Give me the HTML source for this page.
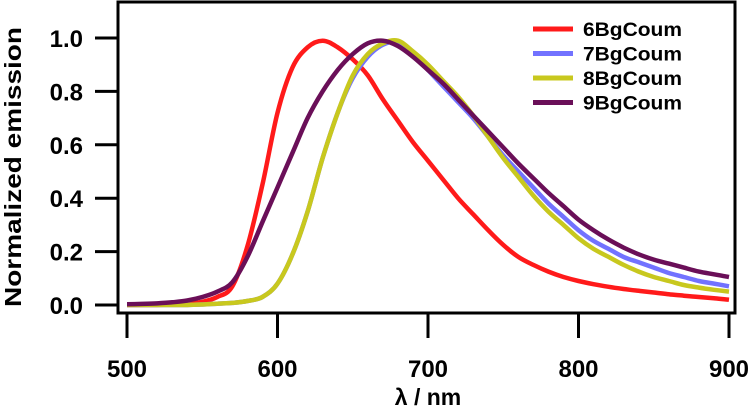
<!DOCTYPE html>
<html><head><meta charset="utf-8"><style>
html,body{margin:0;padding:0;background:#fff;}
svg{display:block;font-family:"Liberation Sans",Arial,sans-serif;font-weight:bold;}
</style></head><body>
<svg id="chart" width="750" height="410" viewBox="0 0 750 410" xmlns="http://www.w3.org/2000/svg">
<g id="marks"></g>
<rect x="118" y="2" width="617" height="311" fill="none" stroke="#000" stroke-width="3"/>
<g id="axes"></g>
<text transform="translate(21,167) rotate(-90)" text-anchor="middle" font-size="23" textLength="280" lengthAdjust="spacingAndGlyphs">Normalized emission</text>
<text x="428" y="405" text-anchor="middle" font-size="23">λ / nm</text>
<g id="legend"></g>
</svg>
<script>
const wavelengths=[500,510,520,530,540,550,560,570,580,590,600,610,620,630,640,650,660,670,680,690,700,710,720,730,740,750,760,770,780,790,800,810,820,830,840,850,860,870,880,890,900];
const s6=[0,0,0,0.002,0.005,0.012,0.03,0.07,0.22,0.45,0.72,0.89,0.965,0.99,0.965,0.92,0.86,0.77,0.69,0.61,0.54,0.47,0.40,0.34,0.28,0.225,0.18,0.15,0.125,0.105,0.09,0.078,0.068,0.06,0.053,0.047,0.04,0.035,0.03,0.025,0.02];
const s7=[0,0,0,0,0,0.002,0.005,0.008,0.015,0.03,0.08,0.19,0.35,0.55,0.72,0.85,0.93,0.975,0.985,0.94,0.88,0.82,0.76,0.70,0.63,0.56,0.50,0.44,0.38,0.33,0.28,0.24,0.21,0.18,0.16,0.14,0.12,0.105,0.09,0.08,0.07];
const s8=[0,0,0,0,0,0.002,0.005,0.008,0.015,0.03,0.08,0.19,0.35,0.55,0.72,0.86,0.94,0.98,0.99,0.95,0.90,0.84,0.78,0.71,0.63,0.55,0.48,0.41,0.35,0.30,0.25,0.21,0.18,0.15,0.125,0.105,0.09,0.075,0.065,0.057,0.05];
const s9=[0.003,0.004,0.006,0.01,0.017,0.03,0.05,0.085,0.18,0.31,0.44,0.57,0.70,0.80,0.88,0.94,0.98,0.99,0.97,0.93,0.88,0.83,0.77,0.71,0.65,0.59,0.53,0.475,0.42,0.37,0.32,0.28,0.245,0.215,0.19,0.17,0.155,0.14,0.125,0.115,0.105];
const seriesNames=["6BgCoum","7BgCoum","8BgCoum","9BgCoum"];
const xTicks=[500,600,700,800,900];
const yTicks=[0,0.2,0.4,0.6,0.8,1.0];
const yTickLabels=["0.0","0.2","0.4","0.6","0.8","1.0"];
const colors=["#ff1a1a","#7272ff","#c8c81e","#6a0f58"];
const NS="http://www.w3.org/2000/svg";
const xs=v=>127+(v-500)*(602/400);
const ys=v=>305-v*267;
function smoothPath(pts){
  let d='M'+pts[0][0].toFixed(1)+','+pts[0][1].toFixed(1);
  for(let i=0;i<pts.length-1;i++){
    const p0=pts[Math.max(0,i-1)],p1=pts[i],p2=pts[i+1],p3=pts[Math.min(pts.length-1,i+2)];
    const c1x=p1[0]+(p2[0]-p0[0])/6,c1y=p1[1]+(p2[1]-p0[1])/6;
    const c2x=p2[0]-(p3[0]-p1[0])/6,c2y=p2[1]-(p3[1]-p1[1])/6;
    d+=' C'+c1x.toFixed(1)+','+c1y.toFixed(1)+' '+c2x.toFixed(1)+','+c2y.toFixed(1)+' '+p2[0].toFixed(1)+','+p2[1].toFixed(1);
  }
  return d;
}
const marks=document.getElementById('marks');
[s6,s7,s8,s9].forEach((s,i)=>{
  const p=document.createElementNS(NS,'path');
  p.setAttribute('d',smoothPath(s.map((v,j)=>[xs(wavelengths[j]),ys(v)])));
  p.setAttribute('fill','none');p.setAttribute('stroke',colors[i]);p.setAttribute('stroke-width','4.5');
  p.setAttribute('stroke-linejoin','round');
  
  
  marks.appendChild(p);
});
const axes=document.getElementById('axes');
xTicks.forEach(t=>{
  const l=document.createElementNS(NS,'line');
  l.setAttribute('x1',xs(t));l.setAttribute('x2',xs(t));l.setAttribute('y1',313);l.setAttribute('y2',338);
  l.setAttribute('stroke','#000');l.setAttribute('stroke-width','3');
  
  
  axes.appendChild(l);
  const tx=document.createElementNS(NS,'text');
  tx.setAttribute('x',xs(t));tx.setAttribute('y',377);tx.setAttribute('text-anchor','middle');tx.setAttribute('font-size','24');
  tx.textContent=t;
  
  
  axes.appendChild(tx);
});
yTicks.forEach((t,i)=>{
  const l=document.createElementNS(NS,'line');
  l.setAttribute('x1',95);l.setAttribute('x2',118);l.setAttribute('y1',ys(t));l.setAttribute('y2',ys(t));
  l.setAttribute('stroke','#000');l.setAttribute('stroke-width','3');
  
  
  axes.appendChild(l);
  const tx=document.createElementNS(NS,'text');
  tx.setAttribute('x',83);tx.setAttribute('y',ys(t)+9);tx.setAttribute('text-anchor','end');tx.setAttribute('font-size','24');
  tx.textContent=yTickLabels[i];
  
  
  axes.appendChild(tx);
});
const legend=document.getElementById('legend');
seriesNames.forEach((n,i)=>{
  const y=29+i*24.5;
  const l=document.createElementNS(NS,'line');
  l.setAttribute('x1',533);l.setAttribute('x2',573);l.setAttribute('y1',y);l.setAttribute('y2',y);
  l.setAttribute('stroke',colors[i]);l.setAttribute('stroke-width','5');
  
  
  legend.appendChild(l);
  const tx=document.createElementNS(NS,'text');
  tx.setAttribute('x',583);tx.setAttribute('y',y+7);tx.setAttribute('font-size','19');
  tx.setAttribute('textLength','99');tx.setAttribute('lengthAdjust','spacingAndGlyphs');
  tx.textContent=n;
  
  
  legend.appendChild(tx);
});
</script>
</body></html>
